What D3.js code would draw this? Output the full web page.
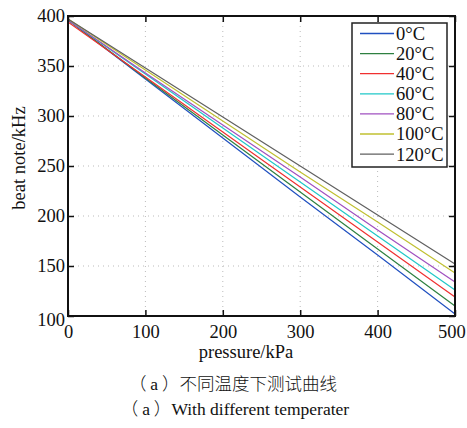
<!DOCTYPE html>
<html>
<head>
<meta charset="utf-8">
<script src="https://cdn.jsdelivr.net/npm/d3@7"></script>
<style>
  body { margin: 0; background: #fff; }
  text { font-family: "Liberation Serif", "Times New Roman", serif; fill: #111; }
  .cjk { font-family: "Noto Sans CJK SC", sans-serif; font-weight: 300; }
</style>
</head>
<body>
<svg width="467" height="428"></svg>
<script>
// data
var temps = ["0°C", "20°C", "40°C", "60°C", "80°C", "100°C", "120°C"];
var colors = ["#2050c0", "#2e8040", "#f03030", "#20c8c8", "#a050c0", "#c0c030", "#606060"];
var pressure = [0, 100, 200, 300, 400, 500];
var beat0   = [396, 337, 278, 219, 161, 102];
var beat20  = [396, 338, 281, 224, 167, 110];
var beat40  = [394, 339, 284, 229, 174, 119];
var beat60  = [396, 342, 288, 234, 180, 126];
var beat80  = [396, 343, 291, 239, 186, 134];
var beat100 = [397, 346, 295, 244, 194, 143];
var beat120 = [397, 348, 299, 250, 201, 152];
var series = [beat0, beat20, beat40, beat60, beat80, beat100, beat120];
var xTicks = [0, 100, 200, 300, 400, 500];
var yTicks = [100, 150, 200, 250, 300, 350, 400];

var svg = d3.select("svg"),
    mLeft = 68, mRight = 455, mTop = 16, mBottom = 316;

var x = d3.scaleLinear().domain([0, 500]).range([mLeft, mRight]);
var y = d3.scaleLinear().domain([100, 400]).range([mBottom, mTop]);

// dotted grid
var grid = svg.append("g");
grid.selectAll("line.gx").data(xTicks.slice(1, -1)).enter().append("line")
    .attr("x1", d => x(d)).attr("x2", d => x(d))
    .attr("y1", mTop).attr("y2", mBottom)
    .attr("stroke", "#bbb").attr("stroke-dasharray", "1,4");
grid.selectAll("line.gy").data(yTicks.slice(1, -1)).enter().append("line")
    .attr("x1", mLeft).attr("x2", mRight)
    .attr("y1", d => y(d)).attr("y2", d => y(d))
    .attr("stroke", "#bbb").attr("stroke-dasharray", "1,4");

// curves
var line = d3.line().x((d, i) => x(pressure[i])).y(d => y(d));
svg.append("g").selectAll("path").data(series).enter().append("path")
    .attr("d", line)
    .attr("fill", "none")
    .attr("stroke", (d, i) => colors[i])
    .attr("stroke-width", 1.2);

// axes with inward ticks
var xAxis = svg.append("g").attr("transform", "translate(0," + mBottom + ")")
    .call(d3.axisBottom(x).tickValues(xTicks).tickSizeInner(-6).tickSizeOuter(0).tickPadding(9));
var yAxis = svg.append("g").attr("transform", "translate(" + mLeft + ",0)")
    .call(d3.axisLeft(y).tickValues(yTicks).tickSizeInner(-6).tickSizeOuter(0).tickPadding(3));
var xTop = svg.append("g").attr("transform", "translate(0," + mTop + ")")
    .call(d3.axisTop(x).tickValues(xTicks).tickSizeInner(-6).tickSizeOuter(0).tickFormat(""));
var yRight = svg.append("g").attr("transform", "translate(" + mRight + ",0)")
    .call(d3.axisRight(y).tickValues(yTicks).tickSizeInner(-6).tickSizeOuter(0).tickFormat(""));

[xAxis, yAxis, xTop, yRight].forEach(function(a) {
    a.select(".domain").remove();
    a.selectAll(".tick line").attr("stroke", "#111").attr("stroke-width", 1.5);
    a.selectAll(".tick text").style("font-family", "Liberation Serif, serif").attr("font-size", 18.5).attr("fill", "#111");
});
yAxis.selectAll(".tick text").attr("dy", "0.32em");
// 100 label sits a bit lower like the original
yAxis.selectAll(".tick text").filter(d => d == 100).attr("dy", "0.5em");
// keep the last x label inside the window
xAxis.selectAll(".tick text").filter(d => d == 500).attr("text-anchor", "end").attr("dx", "0.55em");

// frame
svg.append("rect")
    .attr("x", mLeft).attr("y", mTop)
    .attr("width", mRight - mLeft).attr("height", mBottom - mTop)
    .attr("fill", "none").attr("stroke", "#111").attr("stroke-width", 2);

// legend
var lg = svg.append("g").attr("transform", "translate(352,23)");
lg.append("rect").attr("width", 95).attr("height", 144)
    .attr("fill", "#fff").attr("stroke", "#222").attr("stroke-width", 1.5);
var item = lg.selectAll("g.item").data(temps).enter().append("g")
    .attr("transform", (d, i) => "translate(0," + (10.5 + i * 20.1) + ")");
item.append("line").attr("x1", 8).attr("x2", 42)
    .attr("stroke", (d, i) => colors[i]).attr("stroke-width", 1.3);
item.append("text").attr("x", 44).attr("dy", "0.35em")
    .attr("font-size", 18.5).text(d => d);

// labels
svg.append("text")
    .attr("transform", "translate(25,158) rotate(-90)")
    .attr("text-anchor", "middle").attr("font-size", 18.5)
    .text("beat note/kHz");
svg.append("text").attr("x", 246).attr("y", 358)
    .attr("text-anchor", "middle").attr("font-size", 18.5)
    .text("pressure/kPa");

var cap1 = svg.append("text").attr("x", 233).attr("y", 390)
    .attr("text-anchor", "middle").attr("font-size", 17.5);
cap1.append("tspan").attr("class", "cjk").text("（ ");
cap1.append("tspan").text("a");
cap1.append("tspan").attr("class", "cjk").text(" ）不同温度下测试曲线");

var cap2 = svg.append("text").attr("x", 235).attr("y", 415)
    .attr("text-anchor", "middle").attr("font-size", 17.5);
cap2.append("tspan").attr("class", "cjk").text("（ ");
cap2.append("tspan").text("a");
cap2.append("tspan").attr("class", "cjk").text(" ）");
cap2.append("tspan").text("With different temperater");
</script>
</body>
</html>
